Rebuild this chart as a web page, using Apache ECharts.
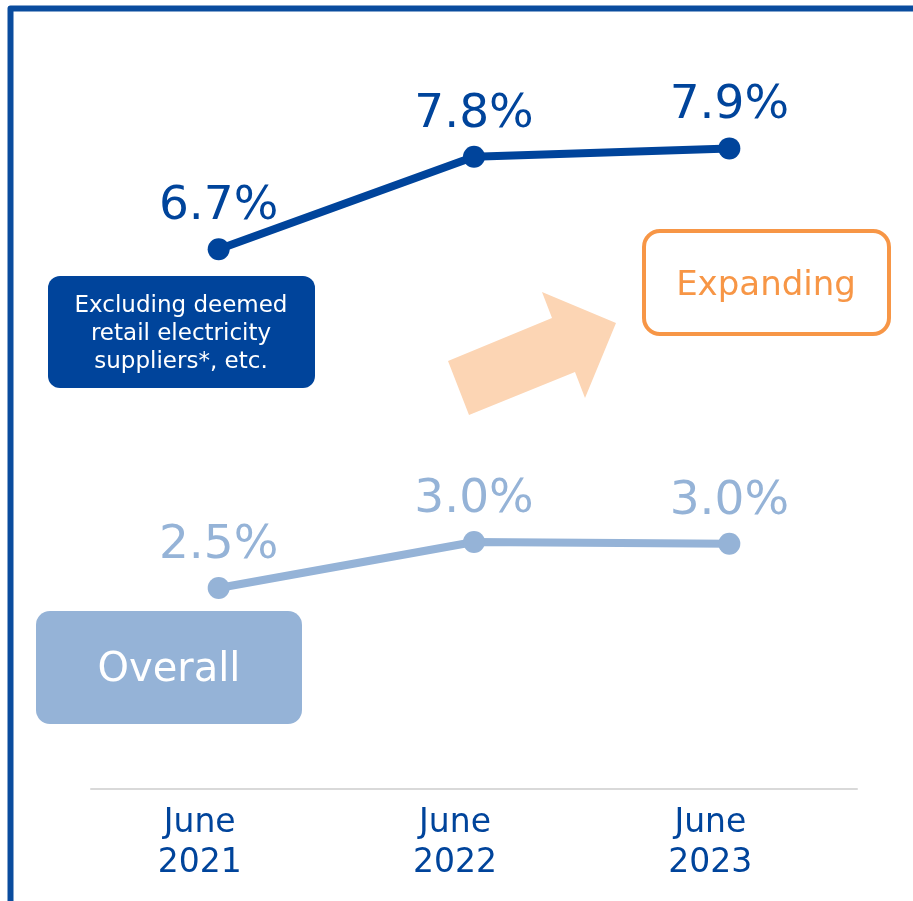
<!DOCTYPE html>
<html>
<head>
<meta charset="utf-8">
<script src="https://cdn.jsdelivr.net/npm/echarts@6/dist/echarts.min.js"></script>
<style>
  html, body { margin: 0; padding: 0; background: #fff; }
  #main { width: 913px; height: 901px; }
</style>
</head>
<body>
<div id="main"></div>
<script>
var months = ['June\n2021', 'June\n2022', 'June\n2023'];
// 两条线：不含认定零售电力供应商等 / 全体
var excludingDeemed = [6.7, 7.8, 7.9];
var overall = [2.5, 3.0, 2.98];

var darkBlue = '#00449b';
var lightBlue = '#95b3d7';
var orange = '#f79646';
var font = '"DejaVu Sans", Verdana, sans-serif';

var myChart = echarts.init(document.getElementById('main'));

function pct(p) {
  return p.value.toFixed(1) + '%';
}

function lineSeries(idx, data, color) {
  return {
    type: 'line',
    xAxisIndex: idx,
    yAxisIndex: idx,
    data: data,
    symbol: 'circle',
    symbolSize: 22,
    lineStyle: { color: color, width: 8 },
    itemStyle: { color: color },
    label: {
      show: true,
      position: 'top',
      distance: 8,
      formatter: pct,
      color: color,
      fontSize: 47,
      fontFamily: font
    },
    z: 10
  };
}

var option = {
  animation: false,
  backgroundColor: '#fff',
  grid: [
    { left: 91, right: 56, top: 140, height: 168 },
    { left: 91, right: 56, top: 496, height: 138 }
  ],
  xAxis: [
    { gridIndex: 0, type: 'category', data: months, show: false },
    {
      gridIndex: 1,
      type: 'category',
      data: months,
      offset: 155,
      axisLine: { lineStyle: { color: '#d9d9d9', width: 2 } },
      axisTick: { show: false },
      splitLine: { show: false },
      axisLabel: {
        margin: 14,
        color: darkBlue,
        fontSize: 33,
        lineHeight: 40,
        padding: [0, 38, 0, 0],
        fontFamily: font
      }
    }
  ],
  yAxis: [
    { gridIndex: 0, type: 'value', min: 6, max: 8, show: false },
    { gridIndex: 1, type: 'value', min: 2, max: 3.5, show: false }
  ],
  series: [
    lineSeries(0, excludingDeemed, darkBlue),
    lineSeries(1, overall, lightBlue)
  ],
  graphic: [
    // 外框（左、上）
    {
      type: 'polyline',
      shape: { points: [[913, 8.5], [10.5, 8.5], [10.5, 901]] },
      style: { stroke: '#0a4c9e', lineWidth: 6, fill: null, lineJoin: 'round' }
    },
    // 箭头
    {
      type: 'polygon',
      shape: {
        points: [[448, 361], [469, 415], [575, 372], [585, 398], [616, 323], [542, 292], [552, 318]]
      },
      style: { fill: '#fcd5b4' }
    },
    {
      type: 'rect',
      shape: { x: 48, y: 276, width: 267, height: 112, r: 12 },
      style: { fill: darkBlue }
    },
    {
      type: 'text',
      x: 181, y: 334,
      style: {
        text: 'Excluding deemed\nretail electricity\nsuppliers*, etc.',
        fill: '#fff',
        fontSize: 23,
        lineHeight: 28,
        fontFamily: font,
        align: 'center',
        verticalAlign: 'middle'
      }
    },
    {
      type: 'rect',
      shape: { x: 36, y: 611, width: 266, height: 113, r: 14 },
      style: { fill: lightBlue }
    },
    {
      type: 'text',
      x: 169, y: 671,
      style: {
        text: 'Overall',
        fill: '#fff',
        fontSize: 40,
        fontFamily: font,
        align: 'center',
        verticalAlign: 'middle'
      }
    },
    {
      type: 'rect',
      shape: { x: 644, y: 231, width: 245, height: 103, r: 16 },
      style: { fill: '#fff', stroke: orange, lineWidth: 4 }
    },
    {
      type: 'text',
      x: 766, y: 286,
      style: {
        text: 'Expanding',
        fill: orange,
        fontSize: 34,
        fontFamily: font,
        align: 'center',
        verticalAlign: 'middle'
      }
    }
  ]
};

myChart.setOption(option);
</script>
</body>
</html>
